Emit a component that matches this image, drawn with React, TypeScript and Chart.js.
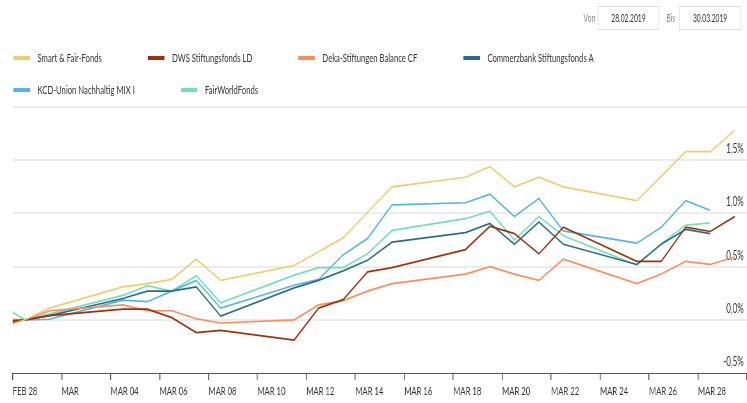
import React, { useEffect, useRef } from 'react';
import { Chart, registerables } from 'chart.js';

Chart.register(...registerables);

// horizontal squeeze of the reference picture
const SCALE = 0.64;
const LOGICAL_W = Math.round(747 / SCALE);

const dates = [
  '2019-02-27', '2019-02-28', '2019-03-01', '2019-03-04', '2019-03-05', '2019-03-06',
  '2019-03-07', '2019-03-08', '2019-03-11', '2019-03-12', '2019-03-13', '2019-03-14',
  '2019-03-15', '2019-03-18', '2019-03-19', '2019-03-20', '2019-03-21', '2019-03-22',
  '2019-03-25', '2019-03-26', '2019-03-27', '2019-03-28', '2019-03-29',
];

const smartFair = [-0.08, 0, 0.11, 0.31, 0.34, 0.38, 0.57, 0.37, 0.51, 0.64, 0.77, 1.01, 1.25, 1.34, 1.44, 1.25, 1.34, 1.25, 1.12, 1.35, 1.58, 1.58, 1.78];
const dws = [-0.02, 0, 0.04, 0.1, 0.1, 0.02, -0.12, -0.1, -0.19, 0.11, 0.19, 0.45, 0.49, 0.66, 0.88, 0.81, 0.62, 0.87, 0.55, 0.55, 0.87, 0.83, 0.97];
const deka = [0.01, 0, 0.085, 0.14, 0.085, 0.085, 0.01, -0.03, 0.0, 0.14, 0.18, 0.27, 0.34, 0.43, 0.5, 0.43, 0.37, 0.57, 0.34, 0.43, 0.55, 0.52, 0.59];
const commerzbank = [-0.05, 0, 0.04, 0.2, 0.27, 0.27, 0.31, 0.035, 0.3, 0.37, 0.46, 0.56, 0.73, 0.82, 0.905, 0.71, 0.92, 0.71, 0.52, 0.71, 0.85, 0.81, null];
const kcd = [-0.03, 0, 0.005, 0.185, 0.17, 0.27, 0.37, 0.11, 0.325, 0.38, 0.61, 0.765, 1.08, 1.1, 1.18, 0.97, 1.14, 0.835, 0.72, 0.87, 1.12, 1.03, null];
const fairWorld = [0.14, 0, 0.055, 0.23, 0.32, 0.27, 0.415, 0.16, 0.42, 0.49, 0.49, 0.62, 0.84, 0.95, 1.02, 0.75, 0.97, 0.79, 0.515, 0.715, 0.89, 0.91, null];

const seriesNames = [
  'Smart & Fair-Fonds',
  'DWS Stiftungsfonds LD',
  'Deka-Stiftungen Balance CF',
  'Commerzbank Stiftungsfonds A',
  'KCD-Union Nachhaltig MIX I',
  'FairWorldFonds',
];
const seriesValues = [smartFair, dws, deka, commerzbank, kcd, fairWorld];
const seriesColors = ['#f2cb6c', '#a0300c', '#ff8a5c', '#2b6b88', '#52b4e8', '#6fe0ba'];

const xTickLabels = [
  'FEB 28', 'MAR', 'MAR 04', 'MAR 06', 'MAR 08', 'MAR 10', 'MAR 12', 'MAR 14',
  'MAR 16', 'MAR 18', 'MAR 20', 'MAR 22', 'MAR 24', 'MAR 26', 'MAR 28', '',
];

const dateFrom = '28.02.2019';
const dateTo = '30.03.2019';

const BASE = Date.UTC(2019, 1, 28);
function dayNum(s: string): number {
  const [y, m, d] = s.split('-').map(Number);
  return (Date.UTC(y, m - 1, d) - BASE) / 86400000 + 0.5;
}

export default function App() {
  const ref = useRef<HTMLCanvasElement | null>(null);

  useEffect(() => {
    if (!ref.current) return;
    Chart.defaults.font.family = 'Lato, sans-serif';
    const chart = new Chart(ref.current, {
      type: 'line',
      data: {
        datasets: seriesNames.map((name, i) => ({
          label: name,
          data: dates
            .map((d, j) => ({ x: dayNum(d), y: seriesValues[i][j] }))
            .filter((p) => p.y !== null) as any,
          borderColor: seriesColors[i],
          backgroundColor: seriesColors[i],
          borderWidth: 1.7,
          pointRadius: 0,
          tension: 0,
          fill: false,
        })),
      },
      options: {
        animation: false,
        responsive: false,
        devicePixelRatio: 1,
        events: [],
        layout: { padding: { top: 7, left: 12.7 / SCALE, right: 0, bottom: 0 } },
        plugins: { legend: { display: false }, tooltip: { enabled: false } },
        scales: {
          x: {
            type: 'linear',
            min: 0,
            max: 30,
            ticks: {
              stepSize: 2,
              autoSkip: false,
              maxRotation: 0,
              align: 'start',
              padding: 4,
              color: '#333',
              font: { size: 12 },
              callback: (v: any) => xTickLabels[Math.round(Number(v) / 2)] ?? '',
            },
            grid: { drawOnChartArea: false, drawTicks: true, tickLength: 7, color: '#555', lineWidth: 1.5 },
            border: { display: true, color: '#555', width: 1 },
            afterFit: (a: any) => {
              a.height = 30;
              a.paddingLeft = 0;
              a.paddingRight = 0;
            },
          },
          y: {
            position: 'right',
            min: -0.5,
            max: 2,
            ticks: {
              stepSize: 0.5,
              mirror: true,
              padding: -5,
              labelOffset: -11,
              color: '#333',
              font: { size: 12.5 },
              callback: (v: any) => (Number(v) >= 2 ? '' : Number(v).toFixed(1).replace('.', ',') + '%'),
            },
            grid: {
              drawTicks: false,
              lineWidth: 2,
              color: (ctx: any) => (ctx.tick && ctx.tick.value === -0.5 ? 'rgba(0,0,0,0)' : '#ececec'),
            },
            border: { display: false },
            afterFit: (a: any) => {
              a.width = 0;
              a.paddingTop = 0;
              a.paddingBottom = 0;
            },
          },
        },
      },
    });
    return () => chart.destroy();
  }, []);

  const legendItem = (i: number) => (
    <div key={i} style={{ display: 'flex', alignItems: 'center', height: 14, marginRight: 46 / SCALE }}>
      <span
        style={{
          display: 'inline-block',
          width: 16.5 / SCALE,
          height: 4,
          background: seriesColors[i],
          marginRight: 7.6 / SCALE,
        }}
      />
      <span style={{ fontSize: 12, lineHeight: '14px', color: '#333', whiteSpace: 'nowrap' }}>{seriesNames[i]}</span>
    </div>
  );

  const box = (left: number, width: number, text: string) => (
    <div
      style={{
        position: 'absolute',
        left,
        top: 6,
        width,
        height: 24,
        boxSizing: 'border-box',
        border: '1px solid #dddddd',
        textAlign: 'center',
        lineHeight: '22px',
        fontSize: 10.5,
        color: '#333',
      }}
    >
      {text}
    </div>
  );

  return (
    <div style={{ position: 'fixed', left: 0, top: 0, width: 747, height: 403, overflow: 'hidden', background: '#fff' }}>
      <div
        style={{
          position: 'absolute',
          left: 0,
          top: 0,
          width: LOGICAL_W,
          height: 403,
          transform: `scaleX(${SCALE})`,
          transformOrigin: '0 0',
          fontFamily: 'Lato, sans-serif',
        }}
      >
        <div style={{ position: 'absolute', left: 893, width: 37, top: 6, height: 24, lineHeight: '24px', textAlign: 'right', fontSize: 10.5, color: '#888' }}>Von</div>
        {box(934, 96, dateFrom)}
        <div style={{ position: 'absolute', left: 1030, width: 25, top: 6, height: 24, lineHeight: '24px', textAlign: 'right', fontSize: 10.5, color: '#888' }}>Bis</div>
        {box(1061, 97, dateTo)}

        <div style={{ position: 'absolute', left: 13.4 / SCALE, top: 51, display: 'flex' }}>
          {[0, 1, 2, 3].map(legendItem)}
        </div>
        <div style={{ position: 'absolute', left: 13.4 / SCALE, top: 83, display: 'flex' }}>
          {[4, 5].map(legendItem)}
        </div>

        <canvas
          ref={ref}
          width={LOGICAL_W}
          height={303}
          style={{ position: 'absolute', left: 0, top: 100, width: LOGICAL_W, height: 303 }}
        />
      </div>
    </div>
  );
}
